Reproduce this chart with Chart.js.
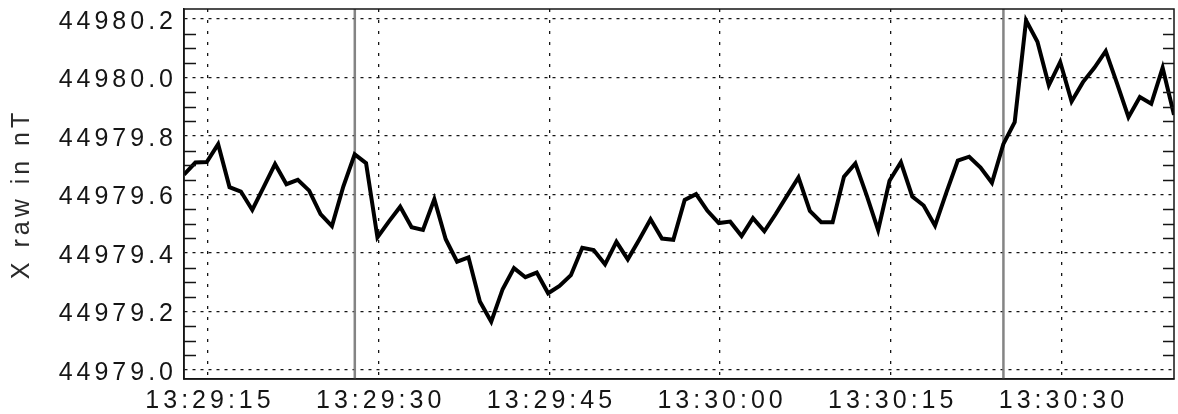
<!DOCTYPE html>
<html>
<head>
<meta charset="utf-8">
<title>X raw</title>
<script src="https://cdn.jsdelivr.net/npm/chart.js@4.4.1/dist/chart.umd.min.js"></script>
<style>
  html, body { margin: 0; padding: 0; background: #ffffff; }
  canvas { display: block; }
</style>
</head>
<body>
<canvas id="xraw" width="1178" height="414"></canvas>
<script>
// time axis is in seconds after 13:29:00, one sample per second
const firstSample = 12.89;

const xRaw = [
  44979.668, 44979.709, 44979.711, 44979.772, 44979.625, 44979.610, 44979.547, 44979.625,
  44979.704, 44979.635, 44979.650, 44979.613, 44979.533, 44979.492, 44979.627, 44979.737,
  44979.707, 44979.453, 44979.507, 44979.558, 44979.488, 44979.479, 44979.584, 44979.447,
  44979.370, 44979.385, 44979.234, 44979.165, 44979.276, 44979.348, 44979.317, 44979.333,
  44979.262, 44979.287, 44979.324, 44979.418, 44979.410, 44979.361, 44979.438, 44979.378,
  44979.445, 44979.515, 44979.449, 44979.445, 44979.581, 44979.601, 44979.544, 44979.502,
  44979.507, 44979.458, 44979.519, 44979.474, 44979.533, 44979.596, 44979.658, 44979.544,
  44979.505, 44979.505, 44979.661, 44979.706, 44979.596, 44979.478, 44979.647, 44979.710,
  44979.593, 44979.562, 44979.493, 44979.607, 44979.716, 44979.729, 44979.692, 44979.640,
  44979.772, 44979.847, 44980.195, 44980.122, 44979.973, 44980.053, 44979.918, 44979.984,
  44980.033, 44980.090, 44979.979, 44979.864, 44979.933, 44979.910, 44980.033, 44979.872
];

// event markers (seconds after 13:29:00)
const markerTimes = [27.9, 84.9];

const xTickValues = [15, 30, 45, 60, 75, 90];
const xTickLabels = ['13:29:15', '13:29:30', '13:29:45', '13:30:00', '13:30:15', '13:30:30'];
const yTickValues = [44979.0, 44979.2, 44979.4, 44979.6, 44979.8, 44980.0, 44980.2];
const yMinorStep = 0.05;

const points = xRaw.map((v, i) => ({ x: firstSample + i, y: v }));

const ink = '#151515';
const font = { family: '"Liberation Sans", Arial, sans-serif', size: 25 };

// wide spacing between glyphs, like the old plotting font
const spacing = {
  id: 'spacing',
  beforeUpdate(chart) { chart.ctx.letterSpacing = '4px'; },
  beforeDraw(chart) { chart.ctx.letterSpacing = '4px'; }
};

const markers = {
  id: 'markers',
  beforeDatasetsDraw(chart) {
    const { ctx, chartArea: a, scales: { x } } = chart;
    ctx.save();
    ctx.strokeStyle = 'rgba(125,125,125,0.95)';
    ctx.lineWidth = 2.5;
    ctx.setLineDash([]);
    markerTimes.forEach(t => {
      const px = x.getPixelForValue(t);
      ctx.beginPath();
      ctx.moveTo(px, a.top);
      ctx.lineTo(px, a.bottom);
      ctx.stroke();
    });
    ctx.restore();
  }
};

const frame = {
  id: 'frame',
  afterDatasetsDraw(chart) {
    const { ctx, chartArea: a, scales: { y } } = chart;
    ctx.save();
    ctx.strokeStyle = ink;
    ctx.lineWidth = 1.5;
    ctx.setLineDash([]);
    ctx.beginPath();
    // minor ticks on both vertical sides, skipping the gridded ones
    const first = Math.ceil(y.min / yMinorStep);
    const last = Math.floor(y.max / yMinorStep);
    for (let n = first; n <= last; n++) {
      if (n % 4 === 0) continue;
      const py = Math.round(y.getPixelForValue(n * yMinorStep)) + 0.5;
      ctx.moveTo(a.left, py);
      ctx.lineTo(a.left + 12, py);
      ctx.moveTo(a.right, py);
      ctx.lineTo(a.right - 11, py);
    }
    ctx.stroke();
    ctx.strokeRect(a.left, a.top, a.right - a.left, a.bottom - a.top);
    ctx.restore();
  }
};

new Chart(document.getElementById('xraw'), {
  type: 'line',
  data: {
    datasets: [{
      label: 'X raw',
      data: points,
      borderColor: '#000000',
      borderWidth: 4,
      pointRadius: 0,
      tension: 0,
      borderJoinStyle: 'miter'
    }]
  },
  options: {
    responsive: false,
    animation: false,
    events: [],
    layout: { padding: { top: 9, right: 4, left: 0, bottom: 0 } },
    plugins: { legend: { display: false }, tooltip: { enabled: false } },
    scales: {
      x: {
        type: 'linear',
        min: firstSample,
        max: firstSample + xRaw.length - 1,
        afterBuildTicks(scale) { scale.ticks = xTickValues.map(v => ({ value: v })); },
        afterFit(scale) {
          scale.height = 35;
          scale.paddingLeft = 0;
          scale.paddingRight = 0;
        },
        grid: { color: ink, lineWidth: 1.3, drawTicks: false },
        border: { display: true, color: ink, width: 1.5, dash: [3, 8] },
        ticks: {
          color: ink,
          font: font,
          padding: 7,
          labelOffset: 2,
          maxRotation: 0,
          autoSkip: false,
          callback: (v, i) => xTickLabels[i]
        }
      },
      y: {
        min: 44978.969,
        max: 44980.234,
        afterBuildTicks(scale) { scale.ticks = yTickValues.map(v => ({ value: v })); },
        afterFit(scale) {
          scale.width = 184;
          scale.paddingTop = 0;
          scale.paddingBottom = 0;
        },
        grid: { color: ink, lineWidth: 1.3, drawTicks: false },
        border: { display: true, color: ink, width: 1.5, dash: [3, 5] },
        title: {
          display: true,
          text: 'X raw in nT',
          color: '#2a2a2a',
          font: font,
          padding: { top: 7, bottom: 0 }
        },
        ticks: {
          color: ink,
          font: font,
          padding: 7,
          labelOffset: 3,
          autoSkip: false,
          callback: v => v.toFixed(1)
        }
      }
    }
  },
  plugins: [spacing, markers, frame]
});
</script>
</body>
</html>
